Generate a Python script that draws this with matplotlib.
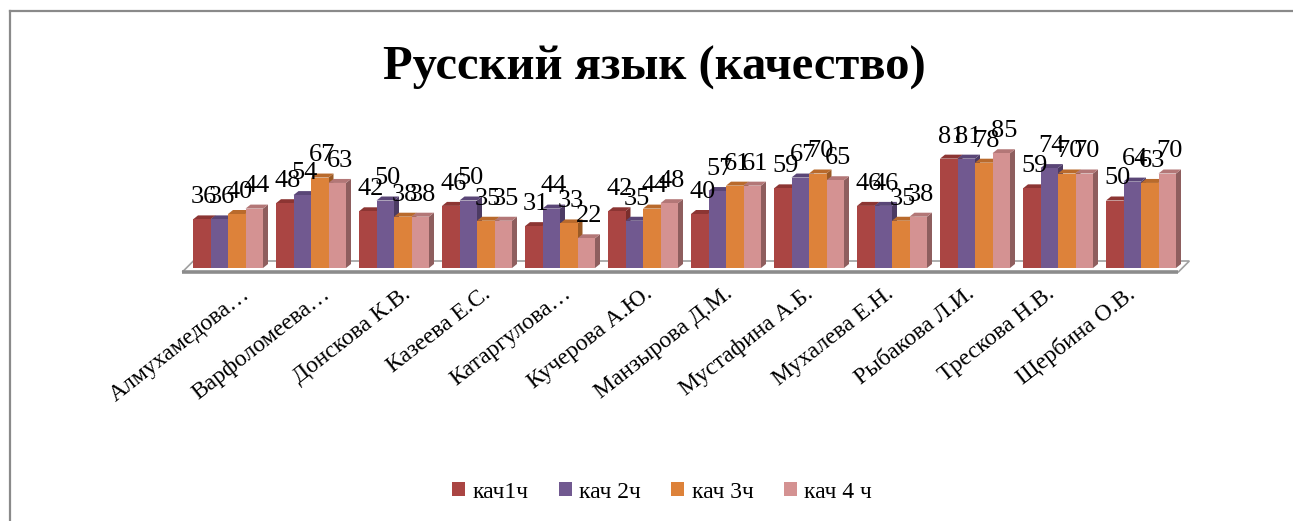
import matplotlib
matplotlib.use("Agg")
import matplotlib.pyplot as plt
from matplotlib.patches import Polygon, Patch
from matplotlib.lines import Line2D
import numpy as np

teachers = ["Алмухамедова…", "Варфоломеева…", "Донскова К.В.", "Казеева Е.С.",
            "Катаргулова…", "Кучерова А.Ю.", "Манзырова Д.М.", "Мустафина А.Б.",
            "Мухалева Е.Н.", "Рыбакова Л.И.", "Трескова Н.В.", "Щербина О.В."]
series_names = ["кач1ч", "кач 2ч", "кач 3ч", "кач 4 ч"]
q1 = [36, 48, 42, 46, 31, 42, 40, 59, 46, 81, 59, 50]
q2 = [36, 54, 50, 50, 44, 35, 57, 67, 46, 81, 74, 64]
q3 = [40, 67, 38, 35, 33, 44, 61, 70, 35, 78, 70, 63]
q4 = [44, 63, 38, 35, 22, 48, 61, 65, 38, 85, 70, 70]
series = [q1, q2, q3, q4]

front = ["#AA4543", "#715990", "#DD823A", "#D49292"]
top = ["#8C3533", "#5A4677", "#B96A2C", "#B37777"]
side = ["#7A2E2C", "#4C3B63", "#9A5A25", "#8E5E5E"]

W, H = 1293, 521
fig = plt.figure(figsize=(W / 100, H / 100), dpi=100)
fig.patch.set_facecolor("white")

# axes placement in pixels
px_unit = 83.0
py_unit = 1.35
left_px, base_px = 228 - 0.6 * px_unit, 268
xlim = (-0.6, 11.7)
ylim = (0, 100)
ax = fig.add_axes([left_px / W, (H - base_px) / H,
                   (xlim[1] - xlim[0]) * px_unit / W, (ylim[1] - ylim[0]) * py_unit / H])
ax.set_xlim(*xlim)
ax.set_ylim(*ylim)
for s in ax.spines.values():
    s.set_visible(False)
ax.set_yticks([])
ax.patch.set_alpha(0)

serif = "Liberation Serif"
n = len(teachers)
x = np.arange(n)
w = 17.5 / px_unit
ddx = 5 / px_unit
ddy = 4 / py_unit

# floor
fdx = 11 / px_unit
fdy = 11 / py_unit
fy0 = -4 / py_unit
fx0, fx1 = -0.55, n - 1 + 0.45
floor = Polygon([(fx0, fy0), (fx1, fy0), (fx1 + fdx, fy0 + fdy), (fx0 + fdx, fy0 + fdy)],
                closed=True, facecolor="white", edgecolor="#A0A0A0", lw=1.2,
                clip_on=False, zorder=1)
ax.add_patch(floor)
ax.plot([fx0, fx1], [fy0, fy0], color="#8C8C8C", lw=2.6, clip_on=False, zorder=1.5,
        solid_capstyle="butt")

for i in range(n):
    for j, vals in enumerate(series):
        h = vals[i]
        x0 = x[i] + (j - 2) * w
        z = 2 + i * 0.01 + j * 0.001
        ax.add_patch(Polygon([(x0 + w, 0), (x0 + w + ddx, ddy), (x0 + w + ddx, h + ddy), (x0 + w, h)],
                             closed=True, facecolor=side[j], edgecolor="none", zorder=z, clip_on=False))
        ax.add_patch(Polygon([(x0, h), (x0 + ddx, h + ddy), (x0 + w + ddx, h + ddy), (x0 + w, h)],
                             closed=True, facecolor=top[j], edgecolor="none", zorder=z, clip_on=False))
        ax.bar(x0, h, width=w, align="edge", color=front[j], edgecolor="none", zorder=z + 0.0005,
               clip_on=False)

for i in range(n):
    for j, vals in enumerate(series):
        h = vals[i]
        xc = x[i] + (j - 1.5) * w + ddx * 0.5
        ax.annotate(str(h), (xc, h), xytext=(0, 8), textcoords="offset points",
                    ha="center", va="bottom", fontsize=19, family=serif, zorder=10,
                    annotation_clip=False)

# label anchors drift slightly left across the axis (3D perspective in the original)
tick_pos = 0.23 + x * (80.5 / px_unit)
ax.set_xticks(tick_pos)
ax.set_xticklabels(teachers, rotation=38, ha="right", va="center", rotation_mode="anchor",
                   fontsize=17, family=serif)
ax.tick_params(axis="x", length=0, pad=17)

fig.text(654 / W, 1 - 68 / H, "Русский язык (качество)", ha="center", va="center",
         fontsize=35, fontweight="bold", family=serif)

handles = [Patch(facecolor=front[j], edgecolor="none", label=series_names[j]) for j in range(4)]
fig.legend(handles=handles, loc="center", bbox_to_anchor=(662 / W, 1 - 492 / H), ncol=4,
           frameon=False, prop={"family": serif, "size": 17}, handlelength=0.55,
           handleheight=0.55, handletextpad=0.3, columnspacing=1.3)

# chart border
fig.add_artist(Line2D([10 / W, 10 / W], [0, 1 - 11 / H], color="#8A8A8A", lw=1.6))
fig.add_artist(Line2D([10 / W, 1], [1 - 11 / H, 1 - 11 / H], color="#8A8A8A", lw=1.6))

fig.savefig("out.png", dpi=100)
